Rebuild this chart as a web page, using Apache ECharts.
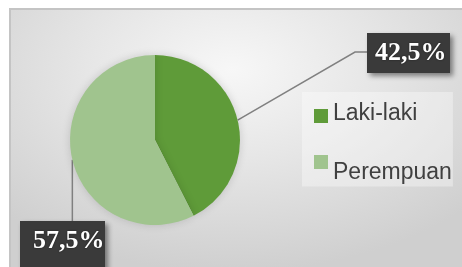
<!DOCTYPE html>
<html>
<head>
<meta charset="utf-8">
<script src="https://cdn.jsdelivr.net/npm/echarts@6/dist/echarts.min.js"></script>
<style>
  html, body {
    margin: 0;
    padding: 0;
    background: #fff;
  }
  .wrap {
    position: relative;
    width: 462px;
    height: 267px;
    overflow: hidden;
  }
  .panel {
    position: absolute;
    left: 9px;
    top: 8px;
    width: 460px;
    height: 270px;
    border-top: 2px solid #c4c4c4;
    border-left: 2px solid #c4c4c4;
    background: radial-gradient(ellipse 70% 75% at 48% 22%, #f7f7f7 0%, #e6e6e6 45%, #cfcfcf 100%);
  }
  #chart {
    position: absolute;
    left: 0;
    top: 0;
    width: 462px;
    height: 267px;
  }
</style>
</head>
<body>
<div class="wrap">
  <div class="panel"></div>
  <div id="chart"></div>
</div>
<script>
const categories = ['Laki-laki', 'Perempuan']
const shares = [42.5, 57.5]
const shareLabels = ['42,5%', '57,5%']
const colors = ['#5f9b39', '#a0c48e']

// where each dark label box sits
const boxPos = [
  { x: 367, y: 33 },
  { x: 20, y: 221 },
]

const chart = echarts.init(document.getElementById('chart'))

// leader line: start on the slice (from the pie layout), then to the box
function leader(p) {
  const box = boxPos[p.dataIndex]
  const pts = p.labelLinePoints
  if (!pts) return undefined
  const start = pts[0]
  if (p.dataIndex === 0) {
    const midY = box.y + 19
    return [start, [box.x - 12, midY], [box.x, midY]]
  }
  return [start, [start[0], (start[1] + box.y) / 2], [start[0], box.y]]
}

const option = {
  animation: false,
  legend: {
    orient: 'vertical',
    left: 302,
    top: 92,
    padding: [10, 1, 2, 12],
    backgroundColor: 'rgba(255,255,255,0.35)',
    icon: 'rect',
    itemWidth: 14,
    itemHeight: 14,
    itemGap: 30,
    data: categories,
    formatter: (name) => (name === categories[0] ? '{l|' + name + '}' : '{p|' + name + '}'),
    textStyle: {
      fontFamily: 'Liberation Sans',
      fontSize: 23,
      color: '#404040',
      rich: {
        l: {
          fontFamily: 'Liberation Sans',
          fontSize: 23,
          color: '#404040',
          padding: [0, 0, 5, 0],
        },
        p: {
          fontFamily: 'Liberation Sans',
          fontSize: 23,
          color: '#404040',
          padding: [22, 0, 0, 0],
        },
      },
    },
  },
  series: [
    {
      type: 'pie',
      center: [155, 140],
      radius: 85,
      startAngle: 90,
      clockwise: true,
      itemStyle: {
        shadowBlur: 8,
        shadowColor: 'rgba(0,0,0,0.15)',
      },
      label: {
        show: true,
        position: 'outside',
        formatter: (p) => shareLabels[p.dataIndex],
        fontFamily: 'Liberation Serif',
        fontWeight: 'bold',
        fontSize: 26,
        lineHeight: 28,
        width: 72,
        overflow: 'none',
        color: '#fff',
        backgroundColor: '#3a3a3a',
        shadowColor: 'rgba(0,0,0,0.45)',
        shadowBlur: 5,
        shadowOffsetX: 3,
        shadowOffsetY: 3,
        textShadowColor: 'rgba(0,0,0,0.5)',
        textShadowBlur: 2,
      },
      labelLine: {
        show: true,
        lineStyle: {
          color: '#808080',
          width: 1.5,
        },
      },
      labelLayout: (p) => ({
        x: boxPos[p.dataIndex].x,
        y: boxPos[p.dataIndex].y,
        align: 'left',
        verticalAlign: 'top',
        labelLinePoints: leader(p),
      }),
      data: categories.map((name, i) => ({
        name,
        value: shares[i],
        itemStyle: { color: colors[i] },
        label: {
          padding: i === 0 ? [6, 3, 6, 8] : [6, 0, 20, 13],
        },
        labelLine: { length2: i === 0 ? 12 : 60 },
      })),
    },
  ],
}

chart.setOption(option)
</script>
</body>
</html>
